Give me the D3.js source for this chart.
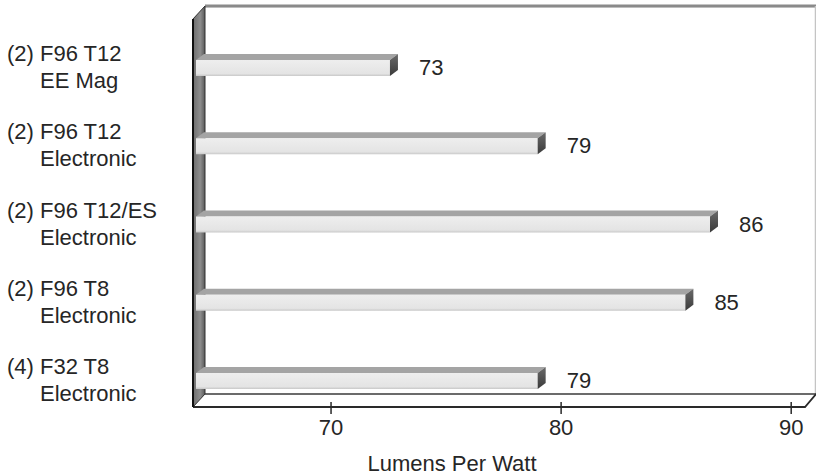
<!DOCTYPE html>
<html>
<head>
<meta charset="utf-8">
<script src="https://cdn.jsdelivr.net/npm/d3@7"></script>
<style>
  html, body { margin: 0; padding: 0; background: #fff; }
  svg { display: block; }
  text { font-family: "Liberation Sans", Arial, Helvetica, sans-serif; fill: #262626; }
</style>
</head>
<body>
<svg id="chart" width="816" height="476"></svg>
<script>
// Fixture efficacy by lamp / ballast combination
const lampCounts = ["(2)", "(2)", "(2)", "(2)", "(4)"];
const lampTypes = ["F96 T12", "F96 T12", "F96 T12/ES", "F96 T8", "F32 T8"];
const ballastTypes = ["EE Mag", "Electronic", "Electronic", "Electronic", "Electronic"];
const lumensPerWatt = [73, 79, 86, 85, 79];
const tickValues = [70, 80, 90];
const axisTitle = "Lumens Per Watt";

const rows = lampTypes.map((t, i) => ({
  id: i, count: lampCounts[i], lamp: t, ballast: ballastTypes[i], value: lumensPerWatt[i]
}));

const svg = d3.select("#chart");
const FONT = 22;

// oblique box: front plane vs. back plane offset
const depth = { dx: 12, dy: -13 };
const frontLeft = 193, frontRight = 805, frontBottom = 407, frontTop = 19;

// value axis along the front floor edge
const xAxis = d3.scaleLinear().domain([64, 90.6]).range([frontLeft, frontRight]);
// bars sit in the middle of the box depth
const xBar = d3.scaleLinear().domain([65, 86]).range([193, 710]);
const y = d3.scalePoint().domain(rows.map(d => d.id)).range([68, 381]);

const barH = 16, barD = { dx: 8, dy: -6 };

const defs = svg.append("defs");
const wallGrad = defs.append("linearGradient").attr("id", "wallGrad")
  .attr("x1", 0).attr("x2", 1).attr("y1", 0).attr("y2", 0);
wallGrad.append("stop").attr("offset", "0%").attr("stop-color", "#6e6e6e");
wallGrad.append("stop").attr("offset", "60%").attr("stop-color", "#8e8e8e");
wallGrad.append("stop").attr("offset", "100%").attr("stop-color", "#5a5a5a");

const sideGrad = defs.append("linearGradient").attr("id", "sideGrad")
  .attr("x1", 0).attr("x2", 0).attr("y1", 0).attr("y2", 1);
sideGrad.append("stop").attr("offset", "0%").attr("stop-color", "#6a6a6a");
sideGrad.append("stop").attr("offset", "100%").attr("stop-color", "#3a3a3a");

const frontGrad = defs.append("linearGradient").attr("id", "frontGrad")
  .attr("x1", 0).attr("x2", 0).attr("y1", 0).attr("y2", 1);
frontGrad.append("stop").attr("offset", "0%").attr("stop-color", "#eeeeee");
frontGrad.append("stop").attr("offset", "85%").attr("stop-color", "#e4e4e4");
frontGrad.append("stop").attr("offset", "100%").attr("stop-color", "#c8c8c8");

const line = d3.line();

// back wall
const backLeft = frontLeft + depth.dx, backTop = frontTop + depth.dy, backBottom = frontBottom + depth.dy;
const backRight = frontRight + depth.dx - 2;
svg.append("rect")
  .attr("x", backLeft).attr("y", backTop)
  .attr("width", backRight - backLeft).attr("height", backBottom - backTop)
  .attr("fill", "#fff");
svg.append("line")
  .attr("x1", backLeft).attr("x2", 816).attr("y1", backTop).attr("y2", backTop)
  .attr("stroke", "#8a8a8a").attr("stroke-width", 3);
svg.append("line")
  .attr("x1", backLeft).attr("x2", 816).attr("y1", backTop + 1.5).attr("y2", backTop + 1.5)
  .attr("stroke", "#bdbdbd").attr("stroke-width", 1);
svg.append("line")
  .attr("x1", backRight + 0.5).attr("x2", backRight + 0.5).attr("y1", backTop).attr("y2", backBottom)
  .attr("stroke", "#c4c4c4").attr("stroke-width", 1.5);

// floor
svg.append("path")
  .attr("d", line([[frontLeft, frontBottom], [backLeft, backBottom], [backRight + 1, backBottom], [frontRight, frontBottom]]) + "Z")
  .attr("fill", "#fff").attr("stroke", "none");
svg.append("line")
  .attr("x1", backLeft).attr("x2", backRight + 1).attr("y1", backBottom).attr("y2", backBottom)
  .attr("stroke", "#3a3a3a").attr("stroke-width", 1.6);
svg.append("path")
  .attr("d", line([[frontLeft, frontBottom], [frontRight, frontBottom], [backRight + 1, backBottom]]))
  .attr("fill", "none").attr("stroke", "#2a2a2a").attr("stroke-width", 1.8);

// left wall
svg.append("path")
  .attr("d", line([[frontLeft, frontTop], [backLeft, backTop], [backLeft, backBottom], [frontLeft, frontBottom]]) + "Z")
  .attr("fill", "url(#wallGrad)").attr("stroke", "#333").attr("stroke-width", 1);
svg.append("line")
  .attr("x1", frontLeft).attr("x2", frontLeft).attr("y1", frontTop).attr("y2", frontBottom)
  .attr("stroke", "#111").attr("stroke-width", 2);

// bars
const bars = svg.append("g").selectAll("g").data(rows).join("g");
const x0 = xBar(65) + 3;
bars.append("path") // top face
  .attr("d", d => {
    const yt = y(d.id) - barH / 2, x1 = xBar(d.value);
    return line([[x0, yt], [x1, yt], [x1 + barD.dx, yt + barD.dy], [x0 + barD.dx, yt + barD.dy]]) + "Z";
  })
  .attr("fill", "#a4a4a4");
bars.append("rect") // front face
  .attr("x", x0)
  .attr("y", d => y(d.id) - barH / 2)
  .attr("width", d => xBar(d.value) - x0)
  .attr("height", barH)
  .attr("fill", "url(#frontGrad)");
bars.append("path") // end face
  .attr("d", d => {
    const yt = y(d.id) - barH / 2, x1 = xBar(d.value);
    return line([[x1, yt], [x1 + barD.dx, yt + barD.dy], [x1 + barD.dx, yt + barD.dy + barH], [x1, yt + barH]]) + "Z";
  })
  .attr("fill", "url(#sideGrad)");

// value labels
bars.append("text")
  .attr("x", d => xBar(d.value) + barD.dx + 21)
  .attr("y", d => y(d.id) + barH / 2 - 1)
  .attr("font-size", FONT)
  .text(d => d3.format("d")(d.value));

// category labels (two lines, second aligned under the lamp type)
const cat = svg.append("g").selectAll("g").data(rows).join("g");
cat.append("text")
  .attr("class", "l1")
  .attr("x", 7)
  .attr("y", d => y(d.id) - 7)
  .attr("font-size", FONT)
  .text(d => d.count + " " + d.lamp);
cat.each(function(d) {
  const g = d3.select(this);
  const probe = g.append("text").attr("font-size", FONT).text(d.lamp);
  const indent = g.select(".l1").node().getComputedTextLength() - probe.node().getComputedTextLength();
  probe.remove();
  g.append("text")
    .attr("x", 7 + indent)
    .attr("y", y(d.id) + 20)
    .attr("font-size", FONT)
    .text(d.ballast);
});

// ticks and tick labels on the front floor edge
const ticks = svg.append("g").selectAll("g").data(tickValues).join("g")
  .attr("transform", d => `translate(${xAxis(d)},0)`);
ticks.append("line")
  .attr("y1", 402).attr("y2", 414)
  .attr("stroke", "#2a2a2a").attr("stroke-width", 1.5);
ticks.append("text")
  .attr("y", 435)
  .attr("text-anchor", "middle")
  .attr("font-size", FONT)
  .text(d => d);

// axis title
svg.append("text")
  .attr("x", 452).attr("y", 471)
  .attr("text-anchor", "middle")
  .attr("font-size", FONT)
  .text(axisTitle);
</script>
</body>
</html>
